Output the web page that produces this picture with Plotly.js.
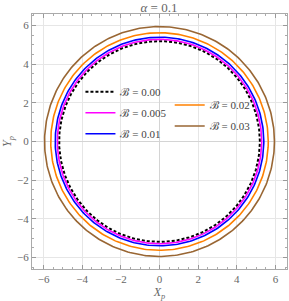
<!DOCTYPE html>
<html><head><meta charset="utf-8">
<script src="https://cdn.plot.ly/plotly-3.0.1.min.js"></script>
<style>html,body{margin:0;padding:0;background:#fff;}</style>
</head><body>
<div id="chart" style="width:289px;height:301px;"></div>
<script>
const labels = ["ℬ = 0.00", "ℬ = 0.005", "ℬ = 0.01", "ℬ = 0.02", "ℬ = 0.03"];
const radii = [5.196, 5.29, 5.40, 5.63, 5.95];
const colors = ["#000000", "#ff00ff", "#0000ff", "#ff8000", "#996633"];
const dashes = ["3px,2px", "solid", "solid", "solid", "solid"];
const legendIds = ["legend", "legend", "legend", "legend2", "legend2"];
const tickVals = [-6, -4, -2, 0, 2, 4, 6];
const tickText = ["\u22126", "\u22124", "\u22122", "0", "2", "4", "6"];

const N = 360;
const traces = radii.map((r, i) => {
  const x = [], y = [];
  for (let k = 0; k <= N; k++) {
    const t = 2 * Math.PI * k / N;
    x.push(r * Math.cos(t));
    y.push(r * Math.sin(t));
  }
  return {
    x, y, type: "scatter", mode: "lines", name: labels[i],
    line: {color: colors[i], width: i === 0 ? 2 : 1.6, dash: dashes[i]},
    legend: legendIds[i], legendgroup: "g" + i
  };
});

const axisBase = {
  range: [-6.6, 6.6],
  tickvals: tickVals, ticktext: tickText,
  ticks: "inside", ticklen: 4, tickcolor: "#999", tickwidth: 1,
  minor: {dtick: 0.5, tick0: 0, ticks: "inside", ticklen: 2, tickcolor: "#aaa", showgrid: false},
  mirror: "ticks", showline: true, linecolor: "#aaa", linewidth: 1,
  showgrid: true, gridcolor: "#e6e6e6", gridwidth: 1,
  zeroline: true, zerolinecolor: "#d4d4d4", zerolinewidth: 1,
  tickfont: {family: "Liberation Serif", size: 11, color: "#666"},
  fixedrange: true
};

const layout = {
  width: 289, height: 301,
  margin: {l: 32, r: 2, t: 14, b: 32},
  paper_bgcolor: "#fff", plot_bgcolor: "#fff",
  title: {text: "<i>α</i> = 0.1", x: 0.55, xanchor: "center", y: 0.99, yanchor: "top",
          font: {family: "Liberation Serif", size: 13, color: "#666"}},
  xaxis: Object.assign({}, axisBase, {
    title: {text: "<i>X<sub>p</sub></i>", standoff: 3, font: {family: "Liberation Serif", size: 12, color: "#666"}}
  }),
  yaxis: Object.assign({}, axisBase, {
    title: {text: "<i>Y<sub>p</sub></i>", standoff: 4, font: {family: "Liberation Serif", size: 12, color: "#666"}}
  }),
  showlegend: true,
  legend: {x: 0.19, xanchor: "left", y: 0.752, yanchor: "top", bgcolor: "rgba(0,0,0,0)",
           font: {family: "Liberation Serif", size: 11, color: "#444"}, tracegroupgap: 2},
  legend2: {x: 0.54, xanchor: "left", y: 0.70, yanchor: "top", bgcolor: "rgba(0,0,0,0)",
           font: {family: "Liberation Serif", size: 11, color: "#444"}, tracegroupgap: 2}
};

Plotly.newPlot("chart", traces, layout, {displayModeBar: false, staticPlot: true});
</script>
</body></html>
